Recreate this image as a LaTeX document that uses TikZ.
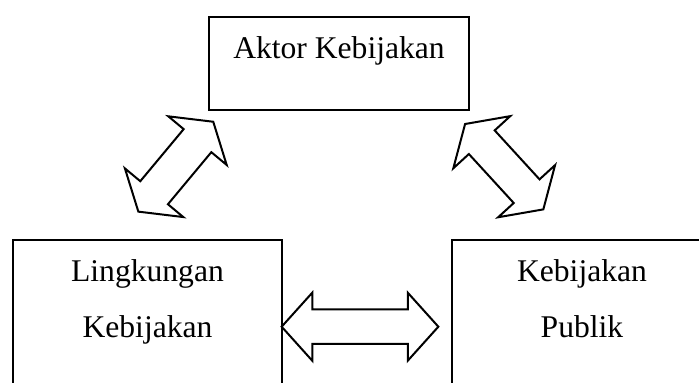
\documentclass[tikz,border=0pt]{standalone}
\usepackage{fontspec}
\setmainfont{Liberation Serif}
\usetikzlibrary{positioning}

\begin{document}
\begin{tikzpicture}[x=0.5pt,y=-0.5pt,font=\fontsize{15.8}{28}\selectfont,
  box/.style={draw,line width=1pt,inner sep=0pt,anchor=north,text height=21pt},
  panah/.style={draw,line width=1pt,line join=miter,fill=white}]
\useasboundingbox (0,0) rectangle (699,383);

\node[box,minimum width=130pt,text depth=25.5pt] (aktor) at (339,16) {Aktor Kebijakan};
\node[box,minimum width=134.5pt,text depth=60pt] (lingkungan) at (147.5,239)
  {\begin{tabular}[t]{@{}c@{}}Lingkungan\\Kebijakan\end{tabular}};
\node[box,minimum width=130pt,text depth=60pt] (publik) at (582,239)
  {\begin{tabular}[t]{@{}c@{}}Kebijakan\\Publik\end{tabular}};

\coordinate (AL) at (175.8,166.7);%% aktor -- lingkungan
\coordinate (AP) at (504.2,166.7);%% aktor -- publik
\coordinate (LP) at (360,326.7);%% lingkungan -- publik

\begin{scope}[shift={(AL)},rotate=50.2]
\draw[panah](-58.5,0)--(-33.9,-38)--(-33.9,-18)--(33.9,-18)--(33.9,-38)--(58.5,0)
  --(33.9,38)--(33.9,18)--(-33.9,18)--(-33.9,38)--cycle;
\end{scope}

\begin{scope}[shift={(AP)},rotate=-47.5]
\draw[panah](-57.9,0)--(-33.2,-38.6)--(-33.2,-17.5)--(33.2,-17.5)--(33.2,-38.6)--(57.9,0)
  --(33.2,38.6)--(33.2,17.5)--(-33.2,17.5)--(-33.2,38.6)--cycle;
\end{scope}

\begin{scope}[shift={(LP)}]
\draw[panah](-78.35,0)--(-47.75,-34)--(-47.75,-17.3)--(47.75,-17.3)--(47.75,-34)--(78.35,0)
  --(47.75,34)--(47.75,17.3)--(-47.75,17.3)--(-47.75,34)--cycle;
\end{scope}
\end{tikzpicture}
\end{document}
